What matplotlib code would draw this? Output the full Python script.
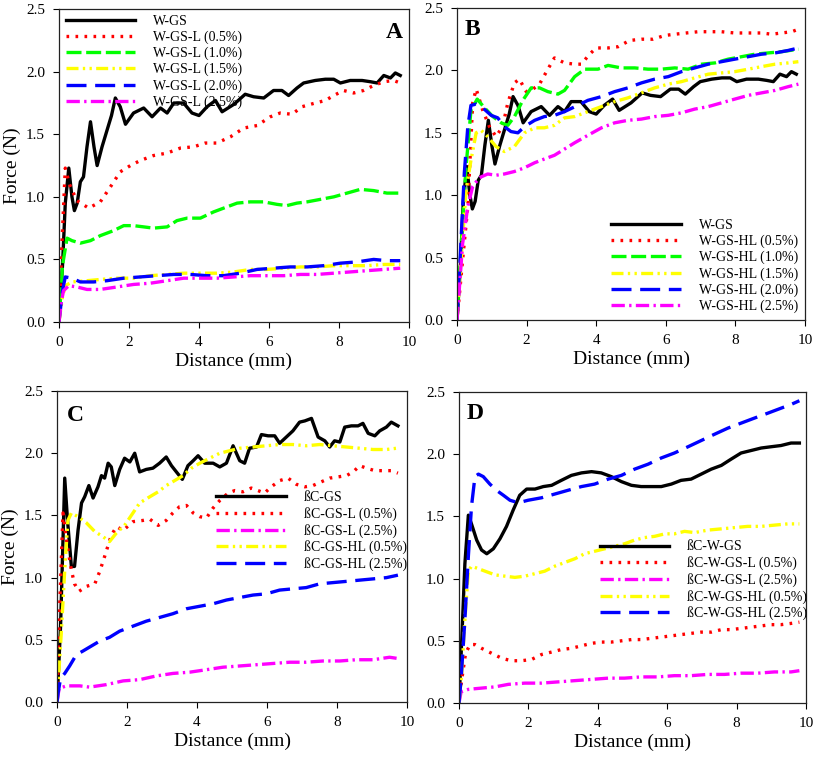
import matplotlib

matplotlib.use("Agg")
import matplotlib.pyplot as plt

plt.rcParams["font.family"] = ["Liberation Serif", "DejaVu Serif"]

# ---- panel A / B shared control curve: W-GS ----
WGS_X = [0, 0.1, 0.18, 0.28, 0.37, 0.44, 0.52, 0.61, 0.7, 0.8, 0.9, 1.0, 1.09, 1.23, 1.37,
         1.5, 1.61, 1.75, 1.9, 2.13, 2.42, 2.66, 2.9, 3.09, 3.28, 3.56, 3.8, 4.0, 4.23,
         4.47, 4.66, 5.0, 5.32, 5.56, 5.85, 6.13, 6.37, 6.56, 6.8, 6.99, 7.32, 7.61,
         7.85, 8.04, 8.32, 8.66, 8.9, 9.09, 9.28, 9.47, 9.61, 9.75]
WGS_Y = [0.0, 0.45, 0.95, 1.23, 1.0, 0.89, 0.95, 1.12, 1.16, 1.4, 1.6, 1.4, 1.25, 1.4, 1.53,
         1.65, 1.79, 1.72, 1.58, 1.67, 1.71, 1.64, 1.71, 1.67, 1.75, 1.75, 1.67, 1.65, 1.72,
         1.77, 1.68, 1.74, 1.82, 1.80, 1.79, 1.85, 1.85, 1.81, 1.87, 1.91, 1.93, 1.94,
         1.94, 1.91, 1.93, 1.93, 1.92, 1.91, 1.97, 1.95, 1.99, 1.97]

# ---- panel A: W-GS-L ----
AL05_X = [0, 0.08, 0.18, 0.3, 0.51, 0.85, 1.18, 1.47, 1.75, 2.04, 2.32, 2.7, 3.09, 3.47, 3.85,
          4.18, 4.51, 4.9, 5.28, 5.66, 6.04, 6.32, 6.66, 6.94, 7.32, 7.61, 7.85, 8.13, 8.42,
          8.7, 8.99, 9.28, 9.56, 9.75]
AL05_Y = [0.0, 0.6, 1.23, 1.1, 0.97, 0.91, 0.96, 1.08, 1.2, 1.25, 1.29, 1.33, 1.35, 1.39, 1.4,
          1.43, 1.43, 1.48, 1.55, 1.57, 1.64, 1.67, 1.66, 1.72, 1.75, 1.77, 1.81, 1.85, 1.83,
          1.85, 1.89, 1.92, 1.93, 1.91]
AL10_X = [0, 0.1, 0.23, 0.37, 0.61, 0.9, 1.18, 1.56, 1.85, 2.13, 2.42, 2.7, 3.09, 3.37, 3.66,
          4.04, 4.42, 4.8, 5.09, 5.47, 5.85, 6.23, 6.51, 6.8, 7.09, 7.47, 7.85, 8.23, 8.61,
          8.99, 9.37, 9.75]
AL10_Y = [0.0, 0.45, 0.67, 0.65, 0.63, 0.65, 0.69, 0.73, 0.77, 0.77, 0.76, 0.75, 0.76, 0.81,
          0.83, 0.83, 0.88, 0.92, 0.95, 0.96, 0.96, 0.94, 0.93, 0.95, 0.96, 0.98, 1.0, 1.03,
          1.06, 1.05, 1.03, 1.03]
AL15_X = [0, 0.1, 0.18, 0.37, 0.8, 1.18, 1.66, 2.13, 2.61, 3.09, 3.56, 4.04, 4.51, 5.0, 5.47,
          5.94, 6.42, 6.9, 7.37, 7.85, 8.32, 8.8, 9.28, 9.75]
AL15_Y = [0.0, 0.2, 0.29, 0.32, 0.33, 0.34, 0.35, 0.35, 0.37, 0.38, 0.39, 0.39, 0.39, 0.40,
          0.42, 0.42, 0.43, 0.44, 0.44, 0.45, 0.45, 0.45, 0.46, 0.46]
AL20_X = [0, 0.1, 0.18, 0.37, 0.61, 0.99, 1.37, 1.85, 2.32, 2.8, 3.28, 3.75, 4.23, 4.7, 5.18,
          5.66, 6.13, 6.61, 7.09, 7.56, 8.04, 8.51, 8.99, 9.37, 9.75]
AL20_Y = [0.0, 0.25, 0.36, 0.35, 0.32, 0.32, 0.33, 0.35, 0.36, 0.37, 0.38, 0.38, 0.37, 0.37,
          0.39, 0.42, 0.43, 0.44, 0.44, 0.45, 0.47, 0.48, 0.50, 0.49, 0.49]
AL25_X = [0, 0.06, 0.13, 0.28, 0.51, 0.8, 1.18, 1.66, 2.13, 2.61, 3.09, 3.56, 4.04, 4.51, 5.0,
          5.47, 5.94, 6.42, 6.9, 7.37, 7.85, 8.32, 8.8, 9.28, 9.75]
AL25_Y = [0.0, 0.15, 0.25, 0.29, 0.28, 0.26, 0.26, 0.28, 0.30, 0.31, 0.33, 0.35, 0.35, 0.35,
          0.36, 0.37, 0.37, 0.37, 0.38, 0.38, 0.39, 0.40, 0.41, 0.42, 0.43]

# ---- panel B: W-GS-HL ----
BH05_X = [0, 0.15, 0.31, 0.45, 0.55, 0.74, 0.93, 1.12, 1.31, 1.46, 1.65, 1.79, 1.99, 2.18,
          2.37, 2.61, 2.8, 3.09, 3.38, 3.57, 3.81, 4.0, 4.34, 4.63, 4.96, 5.3, 5.63, 5.97,
          6.26, 6.59, 6.93, 7.22, 7.6, 7.98, 8.37, 8.75, 9.04, 9.33, 9.62, 9.81]
BH05_Y = [0.0, 0.45, 0.91, 1.74, 1.85, 1.68, 1.55, 1.47, 1.55, 1.74, 1.9, 1.93, 1.83, 1.85,
          1.89, 2.01, 2.10, 2.06, 2.05, 2.05, 2.13, 2.18, 2.18, 2.19, 2.24, 2.25, 2.25, 2.28,
          2.29, 2.30, 2.31, 2.31, 2.31, 2.30, 2.30, 2.30, 2.29, 2.30, 2.31, 2.33]
BH10_X = [0, 0.12, 0.26, 0.4, 0.58, 0.79, 1.03, 1.27, 1.46, 1.65, 1.89, 2.13, 2.37, 2.61, 2.9,
          3.09, 3.38, 3.67, 4.05, 4.34, 4.72, 5.11, 5.49, 5.87, 6.26, 6.64, 7.03, 7.41, 7.79,
          8.18, 8.56, 8.94, 9.33, 9.81]
BH10_Y = [0.0, 0.6, 1.23, 1.68, 1.77, 1.70, 1.63, 1.58, 1.56, 1.63, 1.76, 1.86, 1.86, 1.83,
          1.81, 1.84, 1.95, 2.01, 2.01, 2.04, 2.02, 2.02, 2.01, 2.01, 2.02, 2.01, 2.05, 2.06,
          2.09, 2.11, 2.13, 2.14, 2.15, 2.17]
BH15_X = [0, 0.12, 0.26, 0.4, 0.55, 0.69, 0.88, 1.12, 1.36, 1.65, 1.94, 2.23, 2.51, 2.8, 3.09,
          3.38, 3.76, 4.15, 4.53, 4.91, 5.3, 5.68, 6.07, 6.45, 6.83, 7.22, 7.6, 7.98, 8.37,
          8.75, 9.14, 9.52, 9.81]
BH15_Y = [0.0, 0.5, 1.04, 1.28, 1.5, 1.52, 1.47, 1.39, 1.35, 1.39, 1.5, 1.54, 1.54, 1.56,
          1.62, 1.63, 1.67, 1.71, 1.75, 1.78, 1.82, 1.86, 1.89, 1.91, 1.94, 1.97, 1.98, 1.99,
          2.01, 2.03, 2.05, 2.06, 2.07]
BH20_X = [0, 0.1, 0.21, 0.31, 0.4, 0.55, 0.74, 0.98, 1.17, 1.36, 1.55, 1.75, 1.94, 2.23, 2.51,
          2.8, 3.09, 3.47, 3.76, 4.15, 4.53, 4.91, 5.3, 5.68, 6.07, 6.45, 6.83, 7.22, 7.6,
          7.98, 8.37, 8.75, 9.14, 9.52, 9.81]
BH20_Y = [0.0, 0.55, 1.18, 1.55, 1.72, 1.73, 1.70, 1.64, 1.62, 1.55, 1.51, 1.50, 1.55, 1.60,
          1.63, 1.64, 1.67, 1.72, 1.76, 1.79, 1.83, 1.86, 1.90, 1.93, 1.95, 1.99, 2.02, 2.05,
          2.07, 2.09, 2.11, 2.13, 2.14, 2.16, 2.18]
BH25_X = [0, 0.16, 0.31, 0.45, 0.64, 0.88, 1.12, 1.36, 1.65, 1.94, 2.23, 2.51, 2.8, 3.09,
          3.38, 3.76, 4.15, 4.53, 4.91, 5.3, 5.68, 6.07, 6.45, 6.83, 7.22, 7.6, 7.98, 8.37,
          8.75, 9.14, 9.52, 9.81]
BH25_Y = [0.0, 0.61, 0.91, 1.07, 1.14, 1.17, 1.16, 1.17, 1.19, 1.22, 1.26, 1.29, 1.32, 1.37,
          1.42, 1.48, 1.54, 1.58, 1.60, 1.61, 1.63, 1.64, 1.66, 1.69, 1.71, 1.74, 1.77, 1.80,
          1.82, 1.84, 1.87, 1.89]

# ---- panel C: ßC-GS ----
CGS_X = [0, 0.1, 0.22, 0.3, 0.41, 0.5, 0.6, 0.7, 0.79, 0.91, 1.03, 1.17, 1.27, 1.36, 1.46,
         1.55, 1.65, 1.79, 1.93, 2.08, 2.22, 2.36, 2.55, 2.74, 2.93, 3.12, 3.27, 3.41, 3.58,
         3.74, 3.89, 4.03, 4.22, 4.46, 4.65, 4.84, 5.03, 5.22, 5.36, 5.5, 5.7, 5.84, 6.03,
         6.22, 6.36, 6.55, 6.74, 6.93, 7.08, 7.27, 7.46, 7.65, 7.79, 7.93, 8.08, 8.22, 8.41,
         8.6, 8.74, 8.89, 9.08, 9.22, 9.41, 9.55, 9.74]
CGS_Y = [0.0, 0.6, 1.80, 1.46, 1.09, 1.09, 1.38, 1.60, 1.65, 1.74, 1.64, 1.73, 1.82, 1.80,
         1.92, 1.89, 1.74, 1.87, 1.96, 1.93, 2.0, 1.85, 1.87, 1.88, 1.92, 1.97, 1.90, 1.85,
         1.79, 1.90, 1.94, 1.98, 1.92, 1.92, 1.89, 1.92, 2.06, 1.94, 1.92, 2.04, 2.05, 2.15,
         2.14, 2.14, 2.08, 2.13, 2.18, 2.25, 2.26, 2.28, 2.13, 2.10, 2.05, 2.10, 2.09, 2.21,
         2.22, 2.22, 2.24, 2.16, 2.14, 2.18, 2.21, 2.25, 2.22]
CL05_X = [0, 0.08, 0.17, 0.27, 0.41, 0.5, 0.63, 0.84, 1.08, 1.22, 1.36, 1.55, 1.7, 1.89, 2.17,
          2.46, 2.65, 2.89, 3.12, 3.31, 3.5, 3.7, 3.89, 4.08, 4.27, 4.46, 4.65, 4.89, 5.08,
          5.31, 5.55, 5.74, 5.93, 6.12, 6.36, 6.6, 6.84, 7.08, 7.31, 7.55, 7.79, 8.03, 8.27,
          8.46, 8.65, 8.84, 9.08, 9.31, 9.55, 9.74]
CL05_Y = [0.0, 0.8, 1.52, 1.30, 1.06, 0.95, 0.89, 0.93, 0.95, 1.05, 1.17, 1.34, 1.41, 1.38,
          1.45, 1.46, 1.47, 1.42, 1.46, 1.52, 1.57, 1.58, 1.52, 1.49, 1.48, 1.56, 1.62, 1.68,
          1.70, 1.69, 1.72, 1.70, 1.68, 1.73, 1.78, 1.80, 1.75, 1.73, 1.74, 1.77, 1.80, 1.81,
          1.82, 1.85, 1.90, 1.88, 1.86, 1.86, 1.86, 1.84]
CL25_X = [0, 0.06, 0.27, 0.65, 0.93, 1.41, 1.89, 2.36, 2.84, 3.31, 3.79, 4.27, 4.74, 5.22,
          5.7, 6.17, 6.65, 7.12, 7.6, 8.08, 8.55, 9.03, 9.5, 9.74]
CL25_Y = [0.0, 0.11, 0.13, 0.13, 0.12, 0.14, 0.17, 0.18, 0.21, 0.23, 0.24, 0.26, 0.28, 0.29,
          0.30, 0.31, 0.32, 0.32, 0.33, 0.33, 0.34, 0.34, 0.36, 0.35]
CH05_X = [0, 0.12, 0.22, 0.31, 0.41, 0.6, 0.84, 1.08, 1.31, 1.5, 1.7, 1.93, 2.17, 2.36, 2.65,
          2.89, 3.12, 3.36, 3.6, 3.84, 4.08, 4.36, 4.65, 4.93, 5.22, 5.6, 5.98, 6.36, 6.74,
          7.12, 7.5, 7.88, 8.27, 8.65, 9.03, 9.41, 9.7]
CH05_Y = [0.0, 0.55, 1.06, 1.46, 1.52, 1.49, 1.44, 1.37, 1.33, 1.29, 1.36, 1.42, 1.52, 1.60,
          1.65, 1.69, 1.74, 1.78, 1.82, 1.88, 1.92, 1.96, 2.0, 2.02, 2.04, 2.05, 2.06, 2.07,
          2.07, 2.06, 2.07, 2.06, 2.05, 2.04, 2.03, 2.03, 2.04]
CH25_X = [0, 0.03, 0.1, 0.22, 0.36, 0.55, 0.74, 0.98, 1.22, 1.5, 1.79, 2.17, 2.55, 2.93,
          3.31, 3.7, 4.08, 4.46, 4.84, 5.22, 5.6, 5.98, 6.36, 6.74, 7.12, 7.5, 7.88, 8.27,
          8.65, 9.03, 9.41, 9.74]
CH25_Y = [0.0, 0.07, 0.19, 0.23, 0.29, 0.38, 0.41, 0.45, 0.49, 0.52, 0.57, 0.61, 0.65, 0.68,
          0.71, 0.75, 0.77, 0.79, 0.82, 0.84, 0.86, 0.87, 0.90, 0.91, 0.92, 0.95, 0.96, 0.97,
          0.98, 0.99, 1.00, 1.02]

# ---- panel D: ßC-W-GS ----
DGS_X = [0, 0.08, 0.17, 0.27, 0.36, 0.51, 0.65, 0.8, 0.99, 1.18, 1.37, 1.56, 1.75, 1.95,
         2.19, 2.43, 2.67, 2.95, 3.24, 3.53, 3.82, 4.1, 4.39, 4.68, 4.97, 5.25, 5.54, 5.83,
         6.12, 6.4, 6.69, 6.98, 7.27, 7.56, 7.84, 8.13, 8.42, 8.71, 8.99, 9.28, 9.57, 9.81]
DGS_Y = [0.0, 0.51, 1.12, 1.51, 1.44, 1.31, 1.23, 1.20, 1.24, 1.32, 1.42, 1.55, 1.67, 1.72,
         1.72, 1.74, 1.75, 1.79, 1.83, 1.85, 1.86, 1.85, 1.82, 1.78, 1.75, 1.74, 1.74, 1.74,
         1.76, 1.79, 1.80, 1.84, 1.88, 1.91, 1.96, 2.01, 2.03, 2.05, 2.06, 2.07, 2.09, 2.09]
DL05_X = [0, 0.08, 0.19, 0.32, 0.46, 0.65, 0.94, 1.23, 1.51, 1.8, 2.09, 2.38, 2.67, 2.95,
          3.24, 3.53, 3.82, 4.1, 4.39, 4.68, 4.97, 5.25, 5.54, 5.83, 6.12, 6.4, 6.69, 6.98,
          7.27, 7.56, 7.84, 8.13, 8.42, 8.71, 8.99, 9.28, 9.57, 9.81]
DL05_Y = [0.0, 0.19, 0.40, 0.47, 0.47, 0.44, 0.40, 0.36, 0.34, 0.34, 0.35, 0.39, 0.41, 0.43,
          0.44, 0.46, 0.48, 0.49, 0.49, 0.50, 0.51, 0.51, 0.52, 0.53, 0.54, 0.55, 0.56, 0.57,
          0.57, 0.59, 0.59, 0.60, 0.61, 0.62, 0.63, 0.63, 0.64, 0.65]
DL25_X = [0, 0.06, 0.27, 0.65, 1.04, 1.42, 1.9, 2.38, 2.86, 3.34, 3.82, 4.3, 4.77, 5.25,
          5.73, 6.21, 6.69, 7.17, 7.65, 8.13, 8.61, 9.09, 9.57, 9.81]
DL25_Y = [0.0, 0.09, 0.11, 0.12, 0.13, 0.15, 0.16, 0.16, 0.17, 0.18, 0.19, 0.20, 0.20, 0.21,
          0.21, 0.22, 0.22, 0.23, 0.23, 0.24, 0.24, 0.25, 0.25, 0.26]
DH05_X = [0, 0.08, 0.17, 0.27, 0.36, 0.56, 0.75, 1.04, 1.32, 1.61, 1.9, 2.19, 2.47, 2.76,
          3.05, 3.34, 3.62, 3.91, 4.2, 4.49, 4.77, 5.06, 5.35, 5.64, 5.93, 6.21, 6.5, 6.79,
          7.17, 7.56, 7.94, 8.32, 8.71, 9.09, 9.47, 9.81]
DH05_Y = [0.0, 0.24, 0.67, 1.06, 1.10, 1.08, 1.06, 1.03, 1.02, 1.01, 1.02, 1.04, 1.06, 1.10,
          1.13, 1.16, 1.20, 1.22, 1.24, 1.26, 1.28, 1.31, 1.33, 1.34, 1.36, 1.36, 1.38, 1.37,
          1.39, 1.40, 1.41, 1.42, 1.42, 1.43, 1.44, 1.44]
DH25_X = [0, 0.06, 0.17, 0.27, 0.36, 0.46, 0.56, 0.7, 0.89, 1.08, 1.28, 1.47, 1.71, 1.99,
          2.38, 2.76, 3.14, 3.53, 3.91, 4.3, 4.68, 5.06, 5.45, 5.83, 6.21, 6.6, 6.98, 7.36,
          7.75, 8.13, 8.51, 8.9, 9.28, 9.57, 9.81]
DH25_Y = [0.0, 0.19, 0.67, 1.18, 1.58, 1.82, 1.84, 1.82, 1.76, 1.71, 1.67, 1.63, 1.61, 1.63,
          1.65, 1.68, 1.71, 1.74, 1.76, 1.80, 1.83, 1.88, 1.92, 1.97, 2.01, 2.06, 2.11, 2.16,
          2.21, 2.25, 2.29, 2.33, 2.37, 2.40, 2.43]

# line styles (colour, dash pattern)
SOLID = ("black", "-")
RED_DOT = ("#ff0000", (0, (0.8, 1.9)))
GREEN_DASH = ("#00ff00", (0, (4.5, 1.4)))
YELLOW_DDOT = ("#ffff00", (0, (3.6, 1.3, 0.7, 1.3, 0.7, 1.3)))
BLUE_LDASH = ("#0000ff", (0, (6, 2.6)))
MAGENTA_DDOT = ("#ff00ff", (0, (4, 1.3, 0.7, 1.3)))

PANELS = [
    {
        "rect": [0.0722, 0.578, 0.4284, 0.410], "letter": "A", "ylabel": True,
        "letter_pos": (0.983, 0.925, "right"),
        "legend": dict(loc="upper left", bbox_to_anchor=(0.0, 1.005)),
        "series": [
            ("W-GS", WGS_X, WGS_Y, SOLID),
            ("W-GS-L (0.5%)", AL05_X, AL05_Y, RED_DOT),
            ("W-GS-L (1.0%)", AL10_X, AL10_Y, GREEN_DASH),
            ("W-GS-L (1.5%)", AL15_X, AL15_Y, YELLOW_DDOT),
            ("W-GS-L (2.0%)", AL20_X, AL20_Y, BLUE_LDASH),
            ("W-GS-L (2.5%)", AL25_X, AL25_Y, MAGENTA_DDOT),
        ],
    },
    {
        "rect": [0.5594, 0.5806, 0.4259, 0.4089], "letter": "B", "ylabel": False,
        "letter_pos": (0.023, 0.93, "left"),
        "legend": dict(loc="lower right", bbox_to_anchor=(1.0, 0.0)),
        "series": [
            ("W-GS", WGS_X, WGS_Y, SOLID),
            ("W-GS-HL (0.5%)", BH05_X, BH05_Y, RED_DOT),
            ("W-GS-HL (1.0%)", BH10_X, BH10_Y, GREEN_DASH),
            ("W-GS-HL (1.5%)", BH15_X, BH15_Y, YELLOW_DDOT),
            ("W-GS-HL (2.0%)", BH20_X, BH20_Y, BLUE_LDASH),
            ("W-GS-HL (2.5%)", BH25_X, BH25_Y, MAGENTA_DDOT),
        ],
    },
    {
        "rect": [0.0698, 0.0799, 0.4284, 0.4076], "letter": "C", "ylabel": True,
        "letter_pos": (0.029, 0.92, "left"),
        "legend": dict(loc="upper left", bbox_to_anchor=(0.435, 0.70)),
        "series": [
            ("ßC-GS", CGS_X, CGS_Y, SOLID),
            ("ßC-GS-L (0.5%)", CL05_X, CL05_Y, RED_DOT),
            ("ßC-GS-L (2.5%)", CL25_X, CL25_Y, MAGENTA_DDOT),
            ("ßC-GS-HL (0.5%)", CH05_X, CH05_Y, YELLOW_DDOT),
            ("ßC-GS-HL (2.5%)", CH25_X, CH25_Y, BLUE_LDASH),
        ],
    },
    {
        "rect": [0.5618, 0.0786, 0.4247, 0.4076], "letter": "D", "ylabel": False,
        "letter_pos": (0.023, 0.93, "left"),
        "legend": dict(loc="upper left", bbox_to_anchor=(0.385, 0.545)),
        "series": [
            ("ßC-W-GS", DGS_X, DGS_Y, SOLID),
            ("ßC-W-GS-L (0.5%)", DL05_X, DL05_Y, RED_DOT),
            ("ßC-W-GS-L (2.5%)", DL25_X, DL25_Y, MAGENTA_DDOT),
            ("ßC-W-GS-HL (0.5%)", DH05_X, DH05_Y, YELLOW_DDOT),
            ("ßC-W-GS-HL (2.5%)", DH25_X, DH25_Y, BLUE_LDASH),
        ],
    },
]


fig = plt.figure(figsize=(8.17, 7.63), dpi=100)
for panel in PANELS:
    ax = fig.add_axes(panel["rect"])
    for label, xs, ys, (color, style) in panel["series"]:
        ax.plot(xs, ys, color=color, linestyle=style, linewidth=2.4, label=label,
                dash_capstyle="butt", solid_joinstyle="round")
    ax.set_xlim(0, 10)
    ax.set_ylim(0, 2.5)
    ax.set_xticks(range(0, 11, 2))
    ax.set_yticks([0, 0.5, 1.0, 1.5, 2.0, 2.5])
    ax.set_yticklabels([f"{v:.1f}" for v in [0, 0.5, 1.0, 1.5, 2.0, 2.5]])
    ax.tick_params(direction="out", length=4, width=0.8, labelsize=11, pad=6,
                   top=False, right=False)
    for spine in ax.spines.values():
        spine.set_linewidth(0.9)
        spine.set_color("#222222")
    ax.set_xlabel("Distance (mm)", fontsize=14, labelpad=3)
    if panel["ylabel"]:
        ax.set_ylabel("Force (N)", fontsize=14, labelpad=4)
    lx, ly, ha = panel["letter_pos"]
    ax.text(lx, ly, panel["letter"], transform=ax.transAxes, ha=ha, va="center",
            fontsize=17, fontweight="bold")
    ax.legend(frameon=False, fontsize=10, handlelength=5.0, handletextpad=1.3,
              labelspacing=0.2, borderaxespad=0.3, borderpad=0.2, **panel["legend"])

fig.savefig("out.png", dpi=100)
